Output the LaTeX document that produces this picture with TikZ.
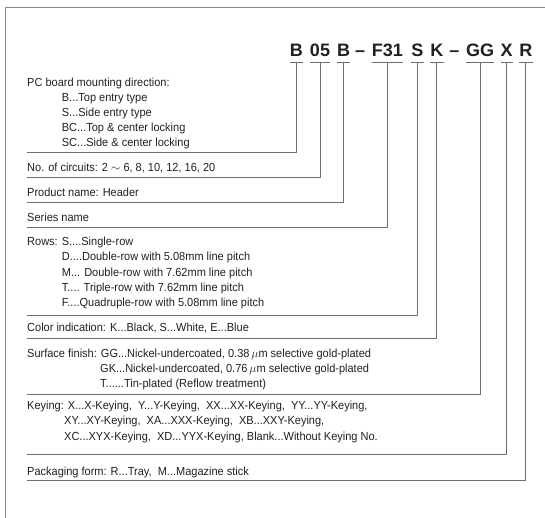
\documentclass[tikz,border=0pt]{standalone}
\usepackage{fontspec}
\setmainfont{Liberation Sans}
\newfontfamily\bodyfont{Liberation Sans}[FakeStretch=0.94]
\definecolor{textc}{HTML}{231F20}
\definecolor{linec}{HTML}{6E6E6E}
\definecolor{framec}{HTML}{8A8A8A}
\begin{document}
\begin{tikzpicture}[x=1pt,y=-1pt,
  txt/.style={anchor=base west,inner sep=0,font=\bodyfont\fontsize{11.7}{13}\selectfont,text=textc},
  ttl/.style={anchor=base,inner sep=0,font=\fontsize{18}{20}\selectfont\bfseries,text=textc},
  ul/.style={draw=linec,line width=0.9pt},
  conn/.style={draw=linec,line width=0.9pt},
  frameline/.style={draw=framec,line width=0.9pt}]
\useasboundingbox (0,0) rectangle (545,518);
\draw[frameline] (5,518) -- (5,7) -- (545,7);

% title
\node[ttl] (tB)  at (296.3,56.5) {B};
\node[ttl] (t05) at (320,56.5) {05};
\node[ttl] (tB2) at (343.5,56.5) {B};
\node[ttl] (d1)  at (360,56.5) {–};
\node[ttl] (tF)  at (387.3,56.5) {F31};
\node[ttl] (tS)  at (417.3,56.5) {S};
\node[ttl] (tK)  at (436.8,56.5) {K};
\node[ttl] (d2)  at (454.3,56.5) {–};
\node[ttl] (tG)  at (480,56.5) {GG};
\node[ttl] (tX)  at (506.7,56.5) {X};
\node[ttl] (tR)  at (525.8,56.5) {R};

\foreach \n in {tB,t05,tB2,tF,tS,tK,tG,tX,tR}{
  \draw[ul] ([yshift=-5.5pt]\n.base west) -- ([yshift=-5.5pt]\n.base east);
}

% line end points
\coordinate (e1) at (27,152);
\coordinate (e2) at (27,177.7);
\coordinate (e3) at (27,202.7);
\coordinate (e4) at (27,227.7);
\coordinate (e5) at (27,315);
\coordinate (e6) at (27,338.3);
\coordinate (e7) at (27,394);
\coordinate (e8) at (27,454.3);
\coordinate (e9) at (27,480);

\draw[conn] ([yshift=-5.5pt]tB.base)  |- (e1);
\draw[conn] ([yshift=-5.5pt]t05.base) |- (e2);
\draw[conn] ([yshift=-5.5pt]tB2.base) |- (e3);
\draw[conn] ([yshift=-5.5pt]tF.base)  |- (e4);
\draw[conn] ([yshift=-5.5pt]tS.base)  |- (e5);
\draw[conn] ([yshift=-5.5pt]tK.base)  |- (e6);
\draw[conn] ([yshift=-5.5pt]tG.base)  |- (e7);
\draw[conn] ([yshift=-5.5pt]tX.base)  |- (e8);
\draw[conn] ([yshift=-5.5pt]tR.base)  |- (e9);

% block 1
\node[txt] (a1) at (27,86.5) {PC board mounting direction:};
\node[txt] (a2) at (61.7,101.4) {B...Top entry type};
\node[txt] (a3) at (61.7,116.3) {S...Side entry type};
\node[txt] (a4) at (61.7,131.2) {BC...Top \& center locking};
\node[txt] (a5) at (61.7,146.1) {SC...Side \& center locking};
% block 2
\node[txt] (b1) at (27,171.5) {No. of circuits: 2 $\sim$ 6, 8, 10, 12, 16, 20};
% block 3
\node[txt] (c1) at (27,196.5) {Product name: Header};
% block 4
\node[txt] (f1) at (27,221.5) {Series name};
% block 5
\node[txt] (r1) at (27,245.5) {Rows: S....Single-row};
\node[txt] (r2) at (61.7,260.75) {D....Double-row with 5.08mm line pitch};
\node[txt] (r3) at (61.7,276) {M... Double-row with 7.62mm line pitch};
\node[txt] (r4) at (61.7,291.25) {T.... Triple-row with 7.62mm line pitch};
\node[txt] (r5) at (61.7,306.5) {F....Quadruple-row with 5.08mm line pitch};
% block 6
\node[txt] (k1) at (27,331.7) {Color indication: K...Black, S...White, E...Blue};
% block 7
\node[txt] (s1) at (27,357.3) {Surface finish: GG...Nickel-undercoated, 0.38\,$\mu$m selective gold-plated};
\node[txt] (s2) at (100,372.3) {GK...Nickel-undercoated, 0.76\,$\mu$m selective gold-plated};
\node[txt] (s3) at (100,387.3) {T......Tin-plated (Reflow treatment)};
% block 8
\node[txt] (y1) at (27,409) {Keying: X...X-Keying,\ \ Y...Y-Keying,\ \ XX...XX-Keying,\ \ YY...YY-Keying,};
\node[txt] (y2) at (64,424.5) {XY...XY-Keying,\ \ XA...XXX-Keying,\ \ XB...XXY-Keying,};
\node[txt] (y3) at (64,440) {XC...XYX-Keying,\ \ XD...YYX-Keying, Blank...Without Keying No.};
% block 9
\node[txt] (p1) at (27,475.5) {Packaging form: R...Tray,\ \ M...Magazine stick};
\end{tikzpicture}
\end{document}
